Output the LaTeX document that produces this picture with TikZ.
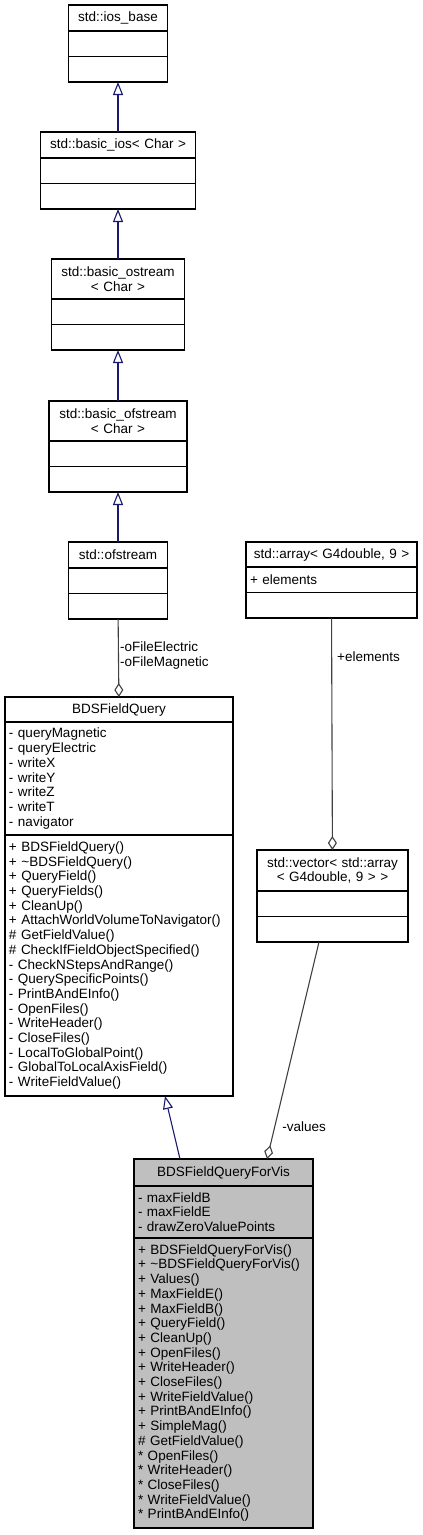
\documentclass[tikz,border=0pt]{standalone}
\usepackage{fontspec}
\setmainfont{Liberation Sans}
\usetikzlibrary{arrows.meta, positioning}
\definecolor{edgeblue}{HTML}{191970}
\definecolor{edgegrey}{HTML}{404040}
\definecolor{visgrey}{HTML}{BFBFBF}
\begin{document}
\begin{tikzpicture}[x=1pt, y=-1pt, node distance=0pt,
    every node/.style={font=\fontsize{13.5}{14.7}\selectfont},
    part/.style={draw=black, line width=1.2pt, outer sep=0pt, inner xsep=4pt, inner ysep=1pt, minimum height=25.5pt, fill=white},
    head/.style={part, align=center, minimum height=26pt},
    list/.style={part, align=left},
    inherit/.style={draw=edgeblue, line width=1.1pt, -{Triangle[open, length=13pt, width=10pt]}},
    aggr/.style={draw=edgegrey, line width=1.1pt, -{Diamond[open, length=14pt, width=9pt]}},
    role/.style={inner sep=1pt, align=left}]
    \useasboundingbox (0,0) rectangle (423,1535);

    \node(ios-head)[head, text width=91pt, anchor=north] at (118,5)
        { std::ios\_base };
    \node(ios-attr)[part, text width=91pt, below=of ios-head] {};
    \node(ios-meth)[part, text width=91pt, below=of ios-attr] {};

    \node(basicios-head)[head, text width=147pt, anchor=north] at (118,132)
        { std::basic\_ios< Char > };
    \node(basicios-attr)[part, text width=147pt, below=of basicios-head] {};
    \node(basicios-meth)[part, text width=147pt, below=of basicios-attr] {};

    \node(ostream-head)[head, text width=125pt, minimum height=40pt, anchor=north] at (118,259)
        { std::basic\_ostream \\ < Char > };
    \node(ostream-attr)[part, text width=125pt, below=of ostream-head] {};
    \node(ostream-meth)[part, text width=125pt, below=of ostream-attr] {};

    \node(basicofs-head)[head, text width=130pt, minimum height=40pt, anchor=north] at (118,401)
        { std::basic\_ofstream \\ < Char > };
    \node(basicofs-attr)[part, text width=130pt, below=of basicofs-head] {};
    \node(basicofs-meth)[part, text width=130pt, below=of basicofs-attr] {};

    \node(ofs-head)[head, text width=91pt, anchor=north] at (118,542)
        { std::ofstream };
    \node(ofs-attr)[part, text width=91pt, below=of ofs-head] {};
    \node(ofs-meth)[part, text width=91pt, below=of ofs-attr] {};

    \node(query-head)[head, text width=220pt, minimum height=25pt, anchor=north] at (119,697)
        { BDSFieldQuery };
    \node(query-attr)[list, text width=220pt, minimum height=113pt, below=of query-head]
        { - queryMagnetic \\ - queryElectric \\ - writeX \\ - writeY \\ - writeZ \\ - writeT \\ - navigator };
    \node(query-meth)[list, text width=220pt, minimum height=261pt, below=of query-attr]
        { + BDSFieldQuery() \\ + \textasciitilde BDSFieldQuery() \\ + QueryField() \\ + QueryFields() \\
          + CleanUp() \\ + AttachWorldVolumeToNavigator() \\ \# GetFieldValue() \\
          \# CheckIfFieldObjectSpecified() \\ - CheckNStepsAndRange() \\ - QuerySpecificPoints() \\
          - PrintBAndEInfo() \\ - OpenFiles() \\ - WriteHeader() \\ - CloseFiles() \\
          - LocalToGlobalPoint() \\ - GlobalToLocalAxisField() \\ - WriteFieldValue() };

    \node(array-head)[head, text width=163pt, minimum height=25pt, anchor=north] at (331.5,542)
        { std::array< G4double, 9 > };
    \node(array-attr)[list, text width=163pt, below=of array-head]
        { + elements };
    \node(array-meth)[part, text width=163pt, below=of array-attr] {};

    \node(vector-head)[head, text width=143pt, minimum height=41pt, anchor=north] at (332.5,850)
        { std::vector< std::array \\ < G4double, 9 > > };
    \node(vector-attr)[part, text width=143pt, below=of vector-head] {};
    \node(vector-meth)[part, text width=143pt, below=of vector-attr] {};

    \node(vis-head)[head, fill=visgrey, text width=171pt, minimum height=27pt, anchor=north] at (223.5,1159)
        { BDSFieldQueryForVis };
    \node(vis-attr)[list, fill=visgrey, text width=171pt, minimum height=52pt, below=of vis-head]
        { - maxFieldB \\ - maxFieldE \\ - drawZeroValuePoints };
    \node(vis-meth)[list, fill=visgrey, text width=171pt, minimum height=290pt, below=of vis-attr]
        { + BDSFieldQueryForVis() \\ + \textasciitilde BDSFieldQueryForVis() \\ + Values() \\
          + MaxFieldE() \\ + MaxFieldB() \\ + QueryField() \\ + CleanUp() \\ + OpenFiles() \\
          + WriteHeader() \\ + CloseFiles() \\ + WriteFieldValue() \\ + PrintBAndEInfo() \\
          + SimpleMag() \\ \# GetFieldValue() \\ {*} OpenFiles() \\ {*} WriteHeader() \\
          {*} CloseFiles() \\ {*} WriteFieldValue() \\ {*} PrintBAndEInfo() };

    \draw[inherit] (basicios-head) -- (ios-meth);
    \draw[inherit] (ostream-head) -- (basicios-meth);
    \draw[inherit] (basicofs-head) -- (ostream-meth);
    \draw[inherit] (ofs-head) -- (basicofs-meth);
    \draw[inherit] ([xshift=-43.5pt]vis-head.north) -- ([xshift=46pt]query-meth.south);
    \draw[aggr] (ofs-meth) -- node[role, pos=.47, anchor=west]
        { -oFileElectric \\ -oFileMagnetic } (query-head);
    \draw[aggr] (array-meth) -- node[role, pos=.165, anchor=west, xshift=4pt]
        { +elements } (vector-head);
    \draw[aggr] ([xshift=-13.5pt]vector-meth.south) -- node[role, pos=.85, anchor=west, xshift=6pt]
        { -values } ([xshift=43.5pt]vis-head.north);
\end{tikzpicture}
\end{document}
